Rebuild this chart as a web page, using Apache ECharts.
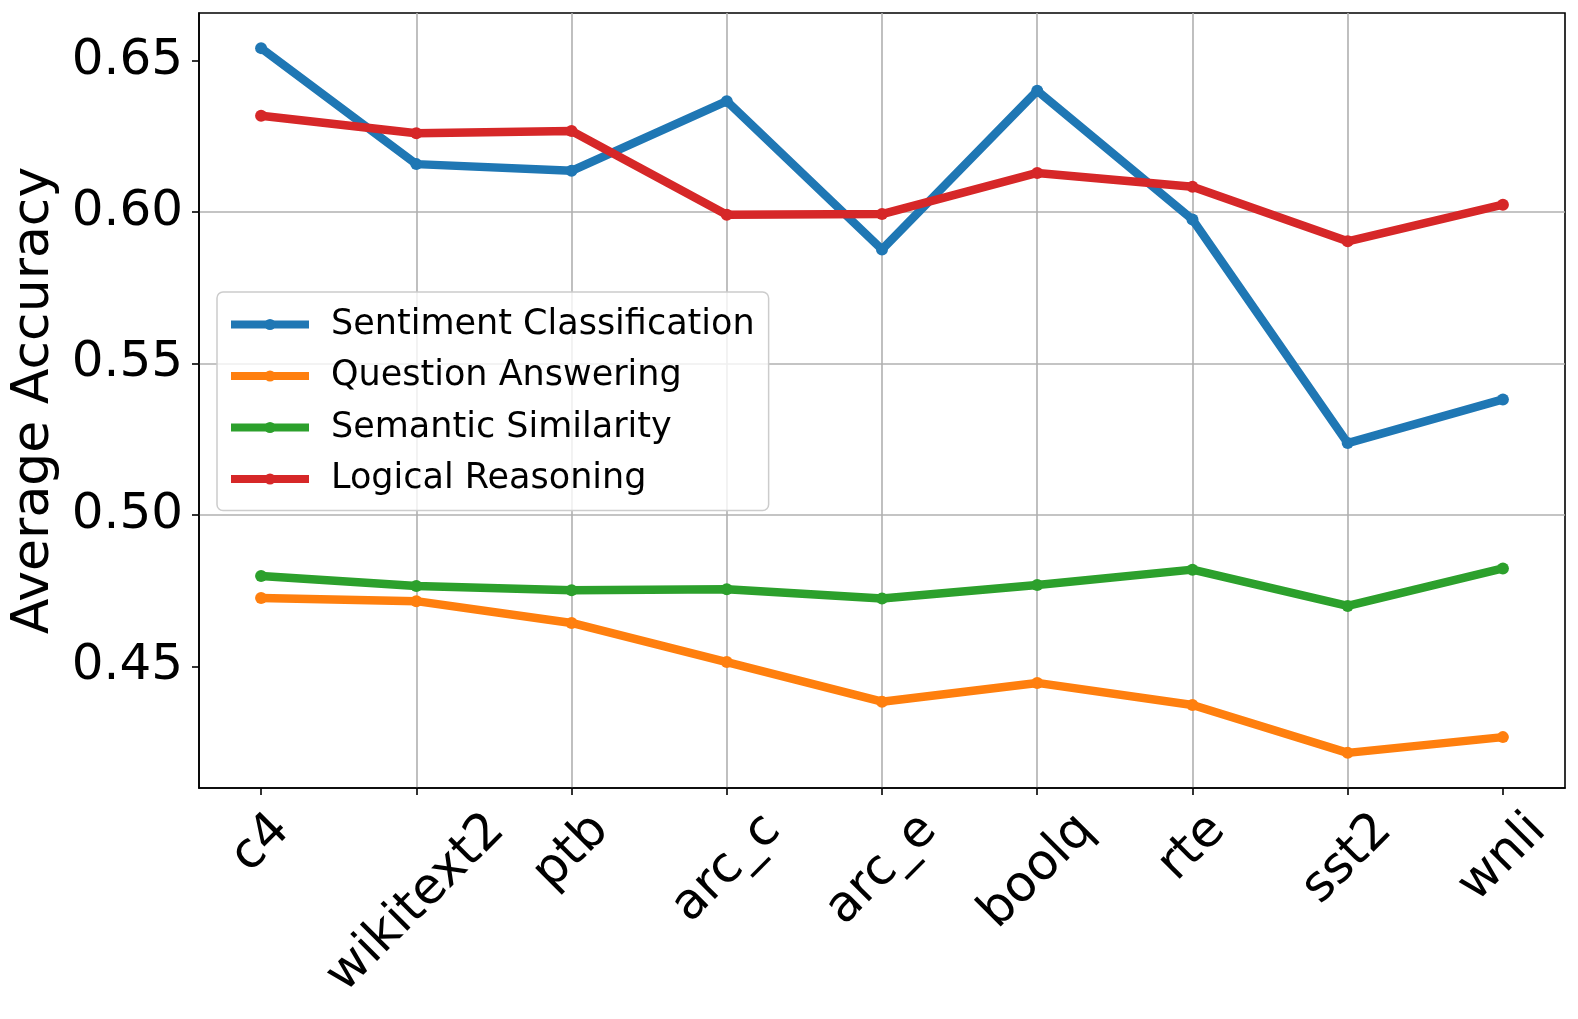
<!DOCTYPE html>
<html><head><meta charset="utf-8">
<script src="https://cdn.jsdelivr.net/npm/echarts@6/dist/echarts.min.js"></script>
<style>html,body{margin:0;padding:0;background:#fff}#c{width:1578px;height:1019px}</style>
</head><body><div id="c"></div>
<script>
const categories = ['c4','wikitext2','ptb','arc_c','arc_e','boolq','rte','sst2','wnli'];
const seriesNames = ['Sentiment Classification','Question Answering','Semantic Similarity','Logical Reasoning'];
const sentiment = [0.6541, 0.6158, 0.6136, 0.6366, 0.5876, 0.6400, 0.5975, 0.5237, 0.5381];
const question  = [0.4725, 0.4715, 0.4643, 0.4514, 0.4383, 0.4445, 0.4372, 0.4214, 0.4266];
const semantic  = [0.4798, 0.4765, 0.4751, 0.4754, 0.4724, 0.4768, 0.4819, 0.4699, 0.4823];
const logical   = [0.6318, 0.6260, 0.6267, 0.5991, 0.5993, 0.6129, 0.6083, 0.5903, 0.6024];
const yTickValues = [0.45, 0.50, 0.55, 0.60, 0.65];
const xTickValues = [0, 1, 2, 3, 4, 5, 6, 7, 8];
const colors = ['#1f77b4', '#ff7f0e', '#2ca02c', '#d62728'];

const FONT = 'DejaVu Sans';
const tickFont = 50;
const ctx = document.createElement('canvas').getContext('2d');
ctx.font = tickFont + 'px "DejaVu Sans"';
const rich = {};
categories.forEach((c, i) => {
  const w = ctx.measureText(c).width;
  const P = (w + tickFont * 1.17) / 2;
  rich['t' + i] = { padding: [P, P, 0, 0], fontSize: tickFont, fontFamily: FONT, color: '#000' };
});

const allSeries = [sentiment, question, semantic, logical];
const chart = echarts.init(document.getElementById('c'), null, { renderer: 'canvas' });
chart.setOption({
  animation: false,
  backgroundColor: '#fff',
  grid: { left: 199, top: 13, right: 13, bottom: 231, show: true, borderColor: '#000', borderWidth: 1.6,
          backgroundColor: 'transparent', containLabel: false, outerBoundsMode: 'none' },
  legend: {
    orient: 'vertical', left: 217, top: 292, padding: [15, 14, 14, 10],
    itemWidth: 78, itemHeight: 14, itemGap: 16.5,
    backgroundColor: 'rgba(255,255,255,0.8)', borderColor: '#cccccc', borderWidth: 1.5, borderRadius: 6,
    lineStyle: { width: 8 },
    textStyle: { fontSize: 35, fontFamily: FONT, color: '#000', padding: [0, 0, 0, 17] },
    data: seriesNames
  },
  xAxis: {
    type: 'value', min: -0.4, max: 8.4, minInterval: 1, maxInterval: 1,
    axisLine: { show: true, onZero: false, lineStyle: { color: '#000', width: 1.6 } },
    axisTick: { show: true, length: 7, customValues: xTickValues, lineStyle: { color: '#000', width: 1.6 } },
    axisLabel: {
      customValues: xTickValues, rotate: 45, align: 'center', verticalAlign: 'middle', margin: 14,
      fontSize: tickFont, fontFamily: FONT, color: '#000', rich: rich,
      formatter: (v) => { const i = Math.round(v); if (Math.abs(v - i) > 1e-6 || i < 0 || i >= categories.length) return ''; return '{t' + i + '|' + categories[i] + '}'; }
    },
    splitLine: { show: true, showMinLine: false, showMaxLine: false, lineStyle: { color: '#b0b0b0', width: 1.6 } }
  },
  yAxis: {
    type: 'value', min: 0.4098, max: 0.6657, minInterval: 0.05, maxInterval: 0.05,
    name: 'Average Accuracy', nameLocation: 'middle', nameGap: 136, nameRotate: 90,
    nameTextStyle: { fontSize: 52, fontFamily: FONT, color: '#000' },
    axisLine: { show: true, onZero: false, lineStyle: { color: '#000', width: 1.6 } },
    axisTick: { show: true, length: 7, customValues: yTickValues, lineStyle: { color: '#000', width: 1.6 } },
    axisLabel: { customValues: yTickValues, formatter: (v) => v.toFixed(2), fontSize: 50, fontFamily: FONT, color: '#000', margin: 16 },
    splitLine: { show: true, showMinLine: false, showMaxLine: false, lineStyle: { color: '#b0b0b0', width: 1.6 } }
  },
  series: allSeries.map((vals, k) => ({
    name: seriesNames[k], type: 'line',
    data: vals.map((v, i) => [i, v]),
    symbol: 'circle', symbolSize: 12, showSymbol: true,
    lineStyle: { color: colors[k], width: 8.5, join: 'round' },
    itemStyle: { color: colors[k] },
    emphasis: { disabled: true }
  }))
});
</script></body></html>
